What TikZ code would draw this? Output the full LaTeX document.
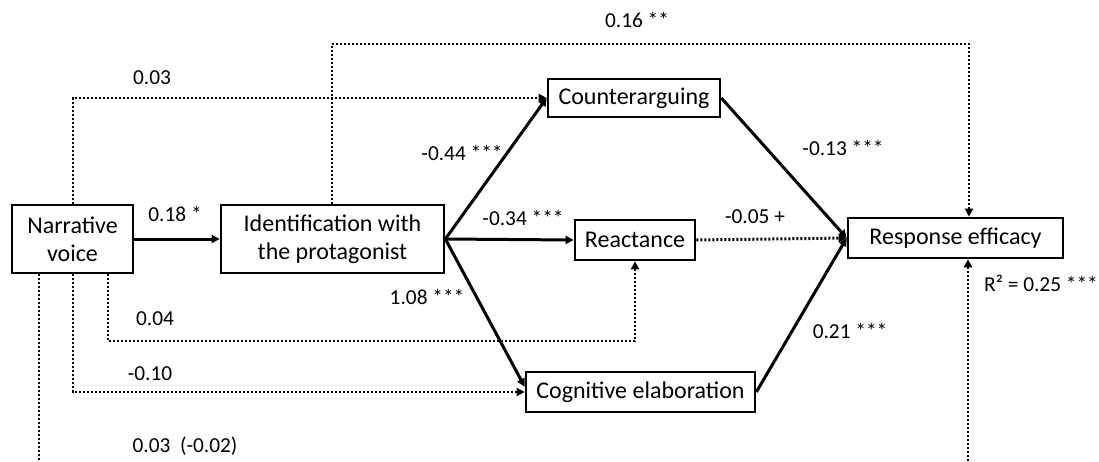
\documentclass[tikz,border=0pt]{standalone}
\usepackage{fontspec}
\setmainfont{Carlito}
\usetikzlibrary{arrows.meta,calc}
\begin{document}
\begin{tikzpicture}[x=0.75pt,y=-0.75pt,
  box/.style={draw,line width=2pt,inner sep=0pt,align=center,
              font=\fontsize{18}{21}\selectfont},
  lbl/.style={font=\fontsize{16}{19}\selectfont,inner sep=0pt},
  tip/.style={-{Triangle[length=6pt,width=6pt]}},
  solidpath/.style={tip,line width=2.25pt},
  dotpath/.style={tip,line width=1.5pt,dash pattern=on 1.5pt off 1.5pt},
]
\useasboundingbox (0,0) rectangle (1099,461);

% variables
\node[box,minimum width=90.75pt,minimum height=51pt] (nv) at (72.5,239) {Narrative\\voice};
\node[box,minimum width=167.25pt,minimum height=51pt] (id) at (332.5,239) {Identification with\\the protagonist};
\node[box,minimum width=129pt,minimum height=28.5pt] (ca) at (634,98) {Counterarguing};
\node[box,minimum width=90pt,minimum height=30pt] (re) at (635,240) {Reactance};
\node[box,minimum width=171.75pt,minimum height=30pt] (ce) at (640.5,392) {Cognitive elaboration};
\node[box,minimum width=161.25pt,minimum height=30pt] (rf) at (955.5,238) {Response efficacy};

% bend points of the dotted direct paths
\coordinate (t1) at (332,44);
\coordinate (t2) at (969,44);
\coordinate (b1) at (108,341);
\coordinate (d1) at (39,461);
\coordinate (d2) at (968,461);

% dotted paths
\draw[dotpath] (id.north -| t1) -- (t1) -- (t2) -- (t2 |- rf.north);
\draw[dotpath] (nv.north) |- (ca.west);
\draw[dotpath] (nv.south -| b1) -- (b1) -| (re.south);
\draw[dotpath] (nv.south) |- (ce.west);
\draw[dotpath,-] (nv.south -| d1) -- (d1);
\draw[dotpath] (d2) -- (d2 |- rf.south);

% solid paths
\draw[solidpath] (nv.east) -- (id.west);
\draw[solidpath] (id.east) -- (ca.west);
\draw[solidpath] (id.east) -- (re.west);
\draw[solidpath] (id.east) -- ([yshift=4pt]ce.west);
\draw[solidpath] (ca.east) -- (rf.west);
\draw[dotpath,line width=2.25pt] (re.east) -- (rf.west);
\draw[solidpath] (ce.east) -- (rf.west);

% coefficients
\node[lbl] (l1) at (637,20) {0.16 **};
\node[lbl] (l2) at (152,78) {0.03};
\node[lbl] (l3) at (175,214) {0.18 *};
\node[lbl] (l4) at (462,153) {-0.44 ***};
\node[lbl] (l5) at (523,218) {-0.34 ***};
\node[lbl] (l6) at (755,217) {-0.05 +};
\node[lbl] (l7) at (427,297) {1.08 ***};
\node[lbl] (l8) at (843,148) {-0.13 ***};
\node[lbl] (l9) at (850,331) {0.21 ***};
\node[lbl] (l10) at (1041,283) {R² = 0.25 ***};
\node[lbl] (l11) at (155,319) {0.04};
\node[lbl] (l12) at (150,374) {-0.10};
\node[lbl] (l13) at (185,446) {0.03\ \ (-0.02)};
\end{tikzpicture}
\end{document}
